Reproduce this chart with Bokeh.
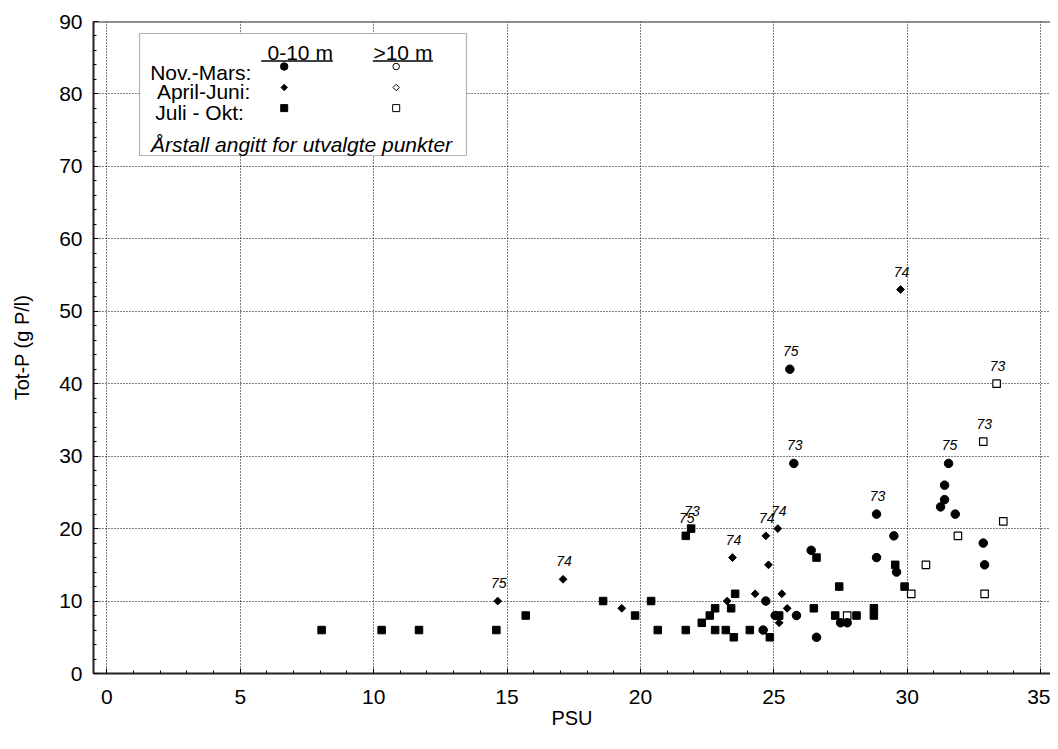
import math
from bokeh.plotting import figure
from bokeh.models import Range1d, SingleIntervalTicker, Span, BoxAnnotation, Label
from bokeh.core.properties import value
from bokeh.embed import file_html
from bokeh.resources import INLINE

# ---------------- data ----------------
# Nov.-Mars, 0-10 m (filled circles)
nm_psu = [24.6, 24.7, 25.05, 25.85, 26.4, 26.6, 27.5, 27.75, 25.6, 25.75, 28.85, 28.85,
          29.5, 29.6, 31.25, 31.4, 31.4, 31.55, 31.8, 32.85, 32.9]
nm_totp = [6, 10, 8, 8, 17, 5, 7, 7, 42, 29, 22, 16,
           19, 14, 23, 24, 26, 29, 22, 18, 15]

# April-Juni, 0-10 m (filled diamonds)
aj_psu = [14.65, 17.1, 19.3, 23.25, 23.45, 24.3, 24.7, 24.8, 25.15, 25.3, 25.2, 25.5, 29.75]
aj_totp = [10, 13, 9, 10, 16, 11, 19, 15, 20, 11, 7, 9, 53]

# Juli - Okt, 0-10 m (filled squares)
jo_psu = [8.05, 10.3, 11.7, 14.6, 15.7, 18.6, 19.8, 20.4, 20.65, 21.7, 21.7, 21.9,
          22.3, 22.6, 22.8, 22.8, 23.2, 23.4, 23.5, 23.55, 24.1, 24.85, 25.2, 26.5,
          26.6, 27.3, 27.45, 28.1, 28.75, 28.75, 29.55, 29.9]
jo_totp = [6, 6, 6, 6, 8, 10, 8, 10, 6, 6, 19, 20,
           7, 8, 9, 6, 6, 9, 5, 11, 6, 5, 8, 9,
           16, 8, 12, 8, 8, 9, 15, 12]

# Juli - Okt, >10 m (open squares)
jod_psu = [27.75, 30.15, 30.7, 31.9, 32.85, 32.9, 33.35, 33.6]
jod_totp = [8, 11, 15, 19, 32, 11, 40, 21]

# year annotations for selected points
yr_psu = [14.65, 17.1, 21.7, 21.9, 23.45, 24.7, 25.15, 25.6, 25.75, 28.85, 29.75, 31.55, 32.85, 33.35]
yr_totp = [10, 13, 19, 20, 16, 19, 20, 42, 29, 22, 53, 29, 32, 40]
yr_text = ["75", "74", "75", "73", "74", "74", "74", "75", "73", "73", "74", "75", "73", "73"]

x_ticks_interval = 5
y_ticks_interval = 10

FONT = "Liberation Sans"

FW, FH = 957, 652  # frame size in px

p = figure(width=1050, height=741,
           x_range=Range1d(-0.5, 35.37), y_range=Range1d(0, 90),
           output_backend="svg", toolbar_location=None,
           min_border_left=93, min_border_right=0,
           min_border_top=21, min_border_bottom=68)
p.background_fill_color = "white"
p.border_fill_color = "white"
p.outline_line_color = None

p.extra_x_ranges = {"px": Range1d(0, FW)}
p.extra_y_ranges = {"px": Range1d(FH, 0)}

p.xaxis.ticker = SingleIntervalTicker(interval=x_ticks_interval, num_minor_ticks=5)
p.yaxis.ticker = SingleIntervalTicker(interval=y_ticks_interval, num_minor_ticks=5)

for ax in (p.xaxis, p.yaxis):
    ax.axis_line_color = "#222222"
    ax.axis_line_width = 2
    ax.major_tick_in = 5
    ax.major_tick_out = 0
    ax.minor_tick_in = 3
    ax.minor_tick_out = 0
    ax.major_tick_line_color = "black"
    ax.minor_tick_line_color = "black"
    ax.major_label_text_font = FONT
    ax.major_label_text_font_size = "21px"
    ax.major_label_text_color = "black"
    ax.axis_label_text_font = FONT
    ax.axis_label_text_font_size = "20px"
    ax.axis_label_text_font_style = "normal"
    ax.axis_label_text_color = "black"

p.xaxis.axis_label = "PSU"
p.yaxis.axis_label = "Tot-P (g P/l)"
p.xaxis.major_label_standoff = 16
p.xaxis.axis_label_standoff = 0
p.yaxis.major_label_standoff = 11
p.yaxis.axis_label_standoff = 23

for g in (p.xgrid, p.ygrid):
    g.grid_line_color = "black"
    g.grid_line_dash = "1 2"
    g.grid_line_width = 1

p.add_layout(Span(location=90, dimension="width", line_color="#222222", line_width=2))

# data marks
p.scatter(jo_psu, jo_totp, marker="square", size=7.5, fill_color="black", line_color="black")
p.scatter(jod_psu, jod_totp, marker="square", size=7.5, fill_color="white", line_color="black", line_width=1.2)
p.scatter(aj_psu, aj_totp, marker="square", angle=math.pi / 4, size=5.5, fill_color="black", line_color="black")
p.scatter(nm_psu, nm_totp, marker="circle", size=8.5, fill_color="black", line_color="black")

p.text(yr_psu, yr_totp, text=yr_text, text_font=value(FONT), text_font_style="italic",
       text_font_size="14px", text_align="center", text_baseline="middle",
       x_offset=1, y_offset=-18, text_color="black")

# ---------------- legend (frame pixel coordinates) ----------------
p.add_layout(BoxAnnotation(left=46, right=373, top=12, bottom=134,
                           x_range_name="px", y_range_name="px",
                           fill_color="white", fill_alpha=1.0,
                           line_color="black", line_width=1.2))

def lab(x, y, text, align="left", style="normal"):
    p.add_layout(Label(x=x, y=y, x_range_name="px", y_range_name="px", text=text,
                       text_font=FONT, text_font_size="21px", text_font_style=style,
                       text_align=align, text_baseline="middle", text_color="black"))

lab(206.7, 31, "0-10 m", "center")
lab(309.4, 31, ">10 m", "center")
lab(56.7, 51, "Nov.-Mars:")
lab(63.4, 70, "April-Juni:")
lab(61.7, 91, "Juli - Okt:")
lab(57.4, 123, "Årstall angitt for utvalgte punkter", style="italic")

seg = p.segment(x0=[167.7, 279.4], y0=[39.5, 39.5], x1=[239.4, 339.4], y1=[39.5, 39.5],
                x_range_name="px", y_range_name="px", line_color="black", line_width=1.5)
seg.level = "overlay"

c1, c2 = 190.7, 302.7
r1, r2, r3 = 45, 66, 86.6
legend_marks = [
    dict(x=[c1], y=[r1], marker="circle", size=7.5, fill_color="black"),
    dict(x=[c2], y=[r1], marker="circle", size=6.5, fill_color="white"),
    dict(x=[c1], y=[r2], marker="square", size=4.5, angle=math.pi / 4, fill_color="black"),
    dict(x=[c2], y=[r2], marker="square", size=4.5, angle=math.pi / 4, fill_color="white"),
    dict(x=[c1], y=[r3], marker="square", size=7, fill_color="black"),
    dict(x=[c2], y=[r3], marker="square", size=7, fill_color="white"),
]
for m in legend_marks:
    r = p.scatter(x_range_name="px", y_range_name="px", line_color="black", line_width=1, **m)
    r.level = "overlay"

open("out.html", "w").write(file_html(p, INLINE))
